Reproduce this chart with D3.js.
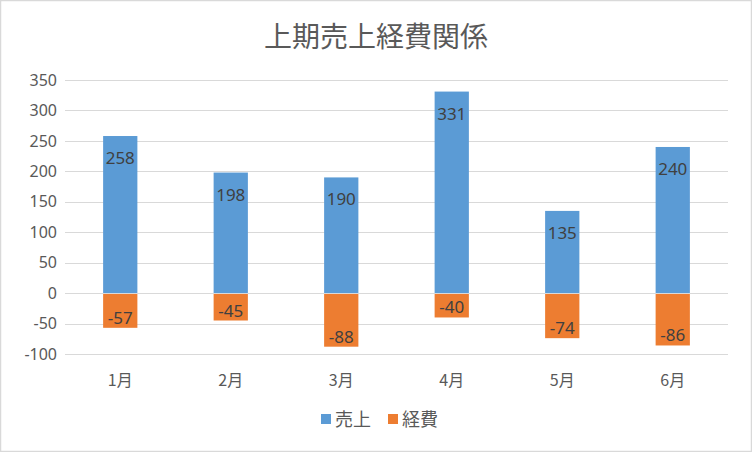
<!DOCTYPE html>
<html><head><meta charset="utf-8">
<script src="https://cdn.jsdelivr.net/npm/d3@7"></script>
<style>
html,body{margin:0;padding:0;background:#fff;}
text{font-family:"Noto Sans CJK JP","Noto Sans",sans-serif;}
</style></head>
<body><svg id="c" width="752" height="452"></svg>
<script>
const title = "上期売上経費関係";
const categories = ["1月","2月","3月","4月","5月","6月"];
const seriesNames = ["売上","経費"];
const sales = [258,198,190,331,135,240];
const expenses = [-57,-45,-88,-40,-74,-86];
const yTicks = [-100,-50,0,50,100,150,200,250,300,350];
const colors = ["#5B9BD5","#ED7D31"];

const svg = d3.select("#c");
svg.append("rect").attr("x",0.5).attr("y",0.5).attr("width",751).attr("height",451)
  .attr("fill","#fff").attr("stroke","#d9d9d9").attr("stroke-width",1.5);

const m = {left:65,right:24,top:80,bottom:98};
const x = d3.scaleBand().domain(categories).range([m.left,752-m.right]).paddingInner(0.69).paddingOuter(0.345);
const y = d3.scaleLinear().domain([-100,350]).range([354,80]);

svg.append("text").attr("x",376).attr("y",47).attr("text-anchor","middle")
  .attr("font-size",28).attr("fill","#595959").text(title);

// grid
svg.append("g").selectAll("line").data(yTicks).join("line")
  .attr("x1",m.left).attr("x2",752-m.right)
  .attr("y1",d=>Math.round(y(d))+0.5).attr("y2",d=>Math.round(y(d))+0.5)
  .attr("stroke","#d9d9d9").attr("stroke-width",1);

// y axis labels
const yAxis = d3.axisLeft(y).tickValues(yTicks).tickSize(0).tickPadding(0).tickFormat(d=>String(d));
const ga = svg.append("g").attr("transform",`translate(${m.left-8},0)`).call(yAxis);
ga.select(".domain").remove();
ga.selectAll("text").attr("font-size",16).attr("fill","#595959")
  .style("font-family","'Noto Sans','Open Sans',sans-serif");

// bars
const series = [sales, expenses];
series.forEach((vals,si)=>{
  svg.append("g").selectAll("rect").data(vals).join("rect")
    .attr("x",(d,i)=>x(categories[i]))
    .attr("width",x.bandwidth())
    .attr("y",d=>y(Math.max(0,d)))
    .attr("height",d=>Math.abs(y(d)-y(0)))
    .attr("fill",colors[si]);
});

// zero line over bars
svg.append("line").attr("x1",m.left).attr("x2",752-m.right)
  .attr("y1",Math.round(y(0))+0.5).attr("y2",Math.round(y(0))+0.5)
  .attr("stroke","#d9d9d9").attr("stroke-width",1);

// labels
series.forEach((vals,si)=>{
  svg.append("g").selectAll("text").data(vals).join("text")
    .attr("x",(d,i)=>x(categories[i])+x.bandwidth()/2)
    .attr("y",d=> d>=0 ? y(d)+28 : y(d)-4)
    .attr("text-anchor","middle").attr("font-size",17).attr("fill","#404040")
    .style("font-family","'Noto Sans','Open Sans',sans-serif")
    .text(d=>d);
});

// x axis labels
svg.append("g").selectAll("text").data(categories).join("text")
  .attr("x",d=>x(d)+x.bandwidth()/2).attr("y",386)
  .attr("text-anchor","middle").attr("font-size",16).attr("fill","#595959").text(d=>d);

// legend
const lg = svg.append("g");
const items = [{n:seriesNames[0],c:colors[0],x:321},{n:seriesNames[1],c:colors[1],x:388}];
items.forEach(it=>{
  lg.append("rect").attr("x",it.x).attr("y",414).attr("width",10).attr("height",10).attr("fill",it.c);
  lg.append("text").attr("x",it.x+14).attr("y",426).attr("font-size",18).attr("fill","#595959").text(it.n);
});
</script></body></html>
